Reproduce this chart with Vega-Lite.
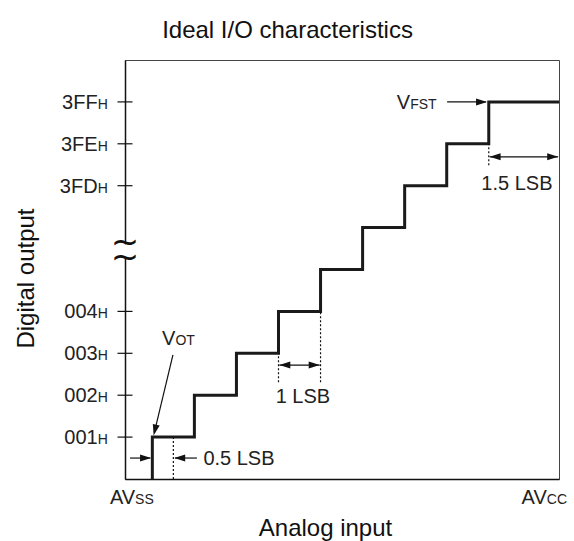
{
  "$schema": "https://vega.github.io/schema/vega-lite/v6.json",
  "width": 434,
  "height": 419,
  "autosize": {"type": "none"},
  "padding": {"left": 125, "top": 60, "right": 15, "bottom": 62},
  "background": "white",
  "config": {
    "view": {"stroke": "#444", "strokeWidth": 1},
    "font": "Liberation Sans"
  },
  "title": {
    "text": "Ideal I/O characteristics",
    "font": "Liberation Sans",
    "fontSize": 24,
    "fontWeight": "normal",
    "color": "#111",
    "anchor": "middle",
    "dx": -54.5,
    "dy": 30,
    "offset": 28,
    "baseline": "alphabetic"
  },
  "datasets": {
    "steps": [
      {"i": 0, "x": 0.65, "y": 0},
      {"i": 1, "x": 0.65, "y": 1},
      {"i": 2, "x": 1.65, "y": 2},
      {"i": 3, "x": 2.65, "y": 3},
      {"i": 4, "x": 3.65, "y": 4},
      {"i": 5, "x": 4.65, "y": 5},
      {"i": 6, "x": 5.65, "y": 6},
      {"i": 7, "x": 6.65, "y": 7},
      {"i": 8, "x": 7.65, "y": 8},
      {"i": 9, "x": 8.65, "y": 9},
      {"i": 10, "x": 10.32, "y": 9}
    ],
    "ticks": [
      {"x": 0, "y": 1}, {"x": 0, "y": 2}, {"x": 0, "y": 3}, {"x": 0, "y": 4},
      {"x": 0, "y": 7}, {"x": 0, "y": 8}, {"x": 0, "y": 9}
    ],
    "main": [
      {"x": -0.65, "y": 9, "t": "3FF"},
      {"x": -0.65, "y": 8, "t": "3FE"},
      {"x": -0.65, "y": 7, "t": "3FD"},
      {"x": -0.65, "y": 4, "t": "004"},
      {"x": -0.65, "y": 3, "t": "003"},
      {"x": -0.65, "y": 2, "t": "002"},
      {"x": -0.65, "y": 1, "t": "001"},
      {"x": 0.24, "y": -0.43, "t": "AV"},
      {"x": 10.03, "y": -0.43, "t": "AV"},
      {"x": 1.2, "y": 3.36, "t": "V"},
      {"x": 6.78, "y": 9.0, "t": "V"}
    ],
    "sub": [
      {"x": -0.65, "y": 9, "t": "H"},
      {"x": -0.65, "y": 8, "t": "H"},
      {"x": -0.65, "y": 7, "t": "H"},
      {"x": -0.65, "y": 4, "t": "H"},
      {"x": -0.65, "y": 3, "t": "H"},
      {"x": -0.65, "y": 2, "t": "H"},
      {"x": -0.65, "y": 1, "t": "H"},
      {"x": 0.24, "y": -0.43, "t": "SS"},
      {"x": 10.03, "y": -0.43, "t": "CC"},
      {"x": 1.2, "y": 3.36, "t": "OT"},
      {"x": 6.78, "y": 9.0, "t": "FST"}
    ],
    "notes": [
      {"x": 2.71, "y": 0.5, "t": "0.5 LSB"},
      {"x": 4.23, "y": 1.98, "t": "1 LSB"},
      {"x": 9.32, "y": 7.06, "t": "1.5 LSB"}
    ],
    "dashes": [
      {"x": 1.15, "y": 0, "y2": 1},
      {"x": 3.65, "y": 2.31, "y2": 3},
      {"x": 4.65, "y": 2.31, "y2": 4},
      {"x": 8.65, "y": 7.49, "y2": 8}
    ],
    "shafts": [
      {"x": 0.12, "x2": 0.6, "y": 0.5, "y2": 0.5},
      {"x": 1.19, "x2": 1.71, "y": 0.5, "y2": 0.5},
      {"x": 3.67, "x2": 4.63, "y": 2.72, "y2": 2.72},
      {"x": 8.67, "x2": 10.3, "y": 7.69, "y2": 7.69},
      {"x": 7.66, "x2": 8.58, "y": 9, "y2": 9},
      {"x": 1.14, "x2": 0.7, "y": 2.96, "y2": 1.12}
    ],
    "heads": [
      {"x": 0.62, "y": 0.5, "dir": "right"},
      {"x": 1.17, "y": 0.5, "dir": "left"},
      {"x": 3.67, "y": 2.72, "dir": "left"},
      {"x": 4.63, "y": 2.72, "dir": "right"},
      {"x": 8.67, "y": 7.69, "dir": "left"},
      {"x": 10.3, "y": 7.69, "dir": "right"},
      {"x": 8.61, "y": 9, "dir": "right"},
      {"x": 0.68, "y": 1.04, "dir": "downleft"}
    ],
    "brk": [{"x": -0.15, "x2": 0.15, "y": 5.3, "y2": 5.6}],
    "tilde": [{"x": 0, "y": 5.63, "t": "~"}, {"x": 0, "y": 5.27, "t": "~"}]
  },
  "encoding": {
    "x": {
      "field": "x",
      "type": "quantitative",
      "scale": {"domain": [0, 10.32], "nice": false, "zero": false},
      "axis": {
        "title": "Analog input",
        "labels": false,
        "ticks": false,
        "grid": false,
        "domainColor": "#111",
        "domainWidth": 1.5,
        "titleFont": "Liberation Sans",
        "titleFontSize": 24,
        "titleFontWeight": "normal",
        "titleColor": "#111",
        "titleX": 200,
        "titleY": 56,
        "titleAlign": "center",
        "titleBaseline": "alphabetic"
      }
    },
    "y": {
      "field": "y",
      "type": "quantitative",
      "scale": {"domain": [0, 10], "nice": false, "zero": false},
      "axis": {
        "title": "Digital output",
        "labels": false,
        "ticks": false,
        "grid": false,
        "domainColor": "#111",
        "domainWidth": 1.5,
        "titleFont": "Liberation Sans",
        "titleFontSize": 24,
        "titleFontWeight": "normal",
        "titleColor": "#111",
        "titleAngle": -90,
        "titleX": -92,
        "titleY": 218,
        "titleAlign": "center",
        "titleBaseline": "alphabetic"
      }
    }
  },
  "layer": [
    {
      "data": {"name": "steps"},
      "mark": {"type": "line", "interpolate": "step-after", "color": "#1a1a1a", "strokeWidth": 3, "strokeJoin": "miter", "strokeCap": "butt"},
      "encoding": {"order": {"field": "i", "type": "quantitative"}}
    },
    {
      "data": {"name": "dashes"},
      "mark": {"type": "rule", "color": "#111", "strokeWidth": 1.2, "strokeDash": [2, 2]},
      "encoding": {"y2": {"field": "y2"}}
    },
    {
      "data": {"name": "shafts"},
      "mark": {"type": "rule", "color": "#111", "strokeWidth": 1.2},
      "encoding": {"x2": {"field": "x2"}, "y2": {"field": "y2"}}
    },
    {
      "data": {"name": "heads"},
      "transform": [{"filter": "datum.dir == 'right'"}],
      "mark": {"type": "point", "shape": "M0,0L-1,-0.32L-1,0.32Z", "size": 484, "filled": true, "color": "#111", "opacity": 1, "strokeWidth": 0, "angle": 0}
    },
    {
      "data": {"name": "heads"},
      "transform": [{"filter": "datum.dir == 'left'"}],
      "mark": {"type": "point", "shape": "M0,0L-1,-0.32L-1,0.32Z", "size": 484, "filled": true, "color": "#111", "opacity": 1, "strokeWidth": 0, "angle": 180}
    },
    {
      "data": {"name": "heads"},
      "transform": [{"filter": "datum.dir == 'downleft'"}],
      "mark": {"type": "point", "shape": "M0,0L-1,-0.32L-1,0.32Z", "size": 484, "filled": true, "color": "#111", "opacity": 1, "strokeWidth": 0, "angle": 104}
    },
    {
      "data": {"name": "ticks"},
      "mark": {"type": "tick", "orient": "horizontal", "size": 15, "thickness": 1.2, "color": "#111", "opacity": 1}
    },
    {
      "data": {"name": "brk"},
      "mark": {"type": "rect", "color": "white", "opacity": 1},
      "encoding": {"x2": {"field": "x2"}, "y2": {"field": "y2"}}
    },
    {
      "data": {"name": "tilde"},
      "mark": {"type": "text", "font": "DejaVu Sans", "fontSize": 34, "align": "center", "baseline": "alphabetic", "dy": 10, "color": "#111"},
      "encoding": {"text": {"field": "t"}}
    },
    {
      "data": {"name": "main"},
      "mark": {"type": "text", "font": "Liberation Sans", "fontSize": 20, "align": "right", "baseline": "alphabetic", "dy": 7, "color": "#222"},
      "encoding": {"text": {"field": "t"}}
    },
    {
      "data": {"name": "sub"},
      "mark": {"type": "text", "font": "Liberation Sans", "fontSize": 14, "align": "left", "baseline": "alphabetic", "dy": 7, "color": "#222"},
      "encoding": {"text": {"field": "t"}}
    },
    {
      "data": {"name": "notes"},
      "mark": {"type": "text", "font": "Liberation Sans", "fontSize": 20, "align": "center", "baseline": "alphabetic", "dy": 7, "color": "#222"},
      "encoding": {"text": {"field": "t"}}
    }
  ]
}
